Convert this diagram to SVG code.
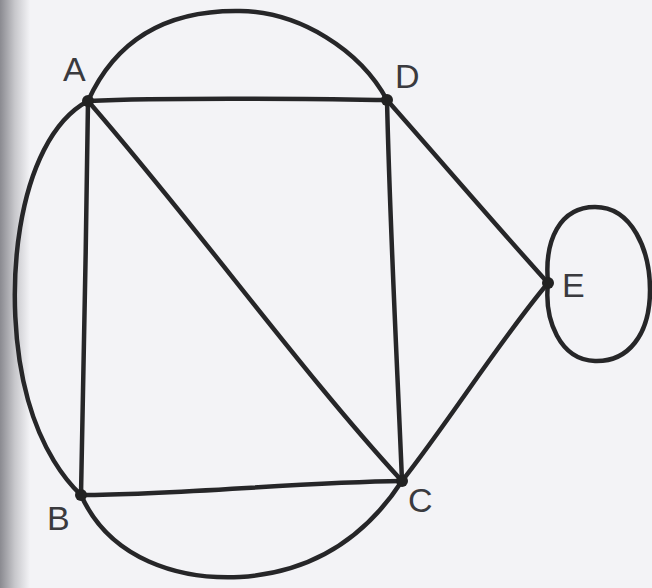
<svg xmlns="http://www.w3.org/2000/svg" width="652" height="588" viewBox="0 0 652 588">
<defs>
<linearGradient id="edge" x1="0" y1="0" x2="1" y2="0">
<stop offset="0" stop-color="#8a8a90"/>
<stop offset="0.5" stop-color="#c8c8cc"/>
<stop offset="1" stop-color="#f3f3f6"/>
</linearGradient>
<style>
.e{fill:none;stroke:#262628;stroke-width:4.5;stroke-linecap:round;stroke-linejoin:round}
.v{fill:#222}
.l{font-family:"Liberation Sans","DejaVu Sans",sans-serif;font-size:34px;fill:#3a3a3e}
</style>
</defs>
<rect width="652" height="588" fill="#f3f3f6"/>
<rect width="30" height="588" fill="url(#edge)"/>
<g id="connectors">
<path class="e" d="M88,101 C180,97 300,99 387,100"/>
<path class="e" d="M88,101 C120,30 180,10 240,11 C300,12 360,50 387,100"/>
<path class="e" d="M88,101 C86,230 84,380 81,495"/>
<path class="e" d="M88,101 C15,140 0,300 28,400 C42,450 65,480 81,495"/>
<path class="e" d="M88,101 C200,230 300,370 402,481"/>
<path class="e" d="M387,100 C390,230 397,360 402,481"/>
<path class="e" d="M387,100 C440,160 500,230 548,283"/>
<path class="e" d="M402,481 C450,420 500,340 548,283"/>
<path class="e" d="M81,495 C180,495 300,482 402,481"/>
<path class="e" d="M81,495 C110,560 180,580 240,577 C320,572 370,530 402,481"/>
<path class="e" d="M548,283 C544,240 560,207 595,207 C632,207 650,250 650,290 C650,335 628,362 595,361 C560,360 544,320 548,283"/>
</g>
<g id="A"><circle class="v" cx="88" cy="101" r="6"/><text class="l" x="63" y="81">A</text></g>
<g id="D"><circle class="v" cx="387" cy="100" r="6"/><text class="l" x="395" y="88">D</text></g>
<g id="E"><circle class="v" cx="548" cy="283" r="6"/><text class="l" x="562" y="297">E</text></g>
<g id="C"><circle class="v" cx="402" cy="481" r="6"/><text class="l" x="408" y="512">C</text></g>
<g id="B"><circle class="v" cx="81" cy="495" r="6"/><text class="l" x="47" y="530">B</text></g>
</svg>
